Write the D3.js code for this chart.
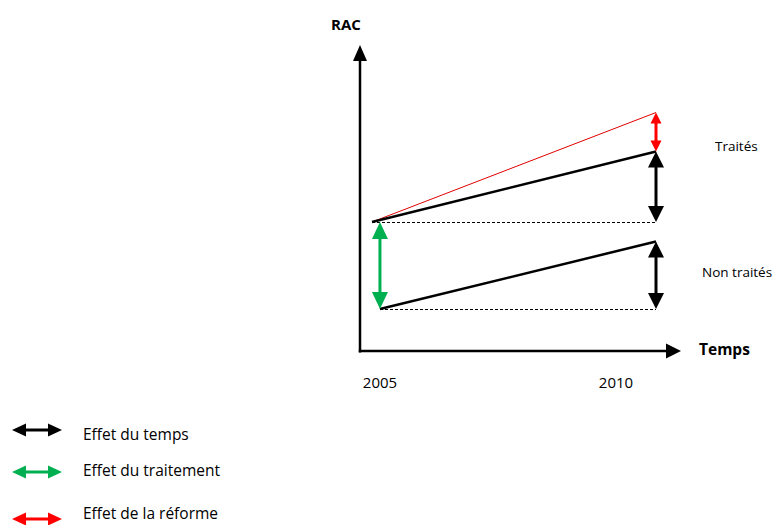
<!DOCTYPE html>
<html><head><meta charset="utf-8">
<script src="https://cdn.jsdelivr.net/npm/d3@7/dist/d3.min.js"></script>
<style>
html,body{margin:0;padding:0;background:#fff;}
text{font-family:"Open Sans",Lato,sans-serif;fill:#000;}
</style></head>
<body>
<svg id="c" width="775" height="525"></svg>
<script>
// ---- data ----
const years = [2005, 2010];
const yearLabels = ["2005", "2010"];
const treated = [43, 66.5];          // Traités
const counterfactual = [43, 79.5];   // red line (without reform)
const untreated = [14, 36.5];        // Non traités
const untreatedStartYear = 2005.14;  // untreated line starts slightly later
const groupLabels = ["Traités", "Non traités"];
const legendLabels = ["Effet du temps", "Effet du traitement", "Effet de la réforme"];
const legendColors = ["#000000", "#00B050", "#FF0000"];

const svg = d3.select("#c");
const x = d3.scaleLinear().domain([2005, 2010]).range([372, 656]);
const y = d3.scaleLinear().domain([0, 100]).range([351, 51]);
const originX = 360, originY = 351;

function head(g, tipX, tipY, dx, dy, len, w, color) {
  const bx = tipX - dx * len, by = tipY - dy * len;
  const px = -dy * w / 2, py = dx * w / 2;
  g.append("polygon")
    .attr("points", [[tipX, tipY], [bx + px, by + py], [bx - px, by - py]].map(p => p.join(",")).join(" "))
    .attr("fill", color);
}
function dblArrow(g, x1, y1, x2, y2, len, w, sw, color) {
  const L = Math.hypot(x2 - x1, y2 - y1), dx = (x2 - x1) / L, dy = (y2 - y1) / L;
  g.append("line").attr("x1", x1 + dx * len * 0.8).attr("y1", y1 + dy * len * 0.8)
    .attr("x2", x2 - dx * len * 0.8).attr("y2", y2 - dy * len * 0.8)
    .attr("stroke", color).attr("stroke-width", sw);
  head(g, x2, y2, dx, dy, len, w, color);
  head(g, x1, y1, -dx, -dy, len, w, color);
}
function sglArrow(g, x1, y1, x2, y2, len, w, sw, color) {
  const L = Math.hypot(x2 - x1, y2 - y1), dx = (x2 - x1) / L, dy = (y2 - y1) / L;
  g.append("line").attr("x1", x1).attr("y1", y1)
    .attr("x2", x2 - dx * len * 0.8).attr("y2", y2 - dy * len * 0.8)
    .attr("stroke", color).attr("stroke-width", sw);
  head(g, x2, y2, dx, dy, len, w, color);
}

const g = svg.append("g");

// axes
sglArrow(g, originX, originY + 1.5, originX, 45, 16, 14, 2.5, "#000");
sglArrow(g, originX - 1.2, originY, 681, originY, 15, 15, 2.5, "#000");
g.append("text").attr("x", 331).attr("y", 30).attr("font-size", 15).attr("font-weight", "bold").text("RAC");
g.append("text").attr("x", 699).attr("y", 355).attr("font-size", 15.5).attr("font-weight", "bold").text("Temps");

// year labels
g.append("text").attr("x", x(years[0]) + 8).attr("y", 388).attr("text-anchor", "middle").attr("font-size", 15).text(yearLabels[0]);
g.append("text").attr("x", x(years[1]) - 40).attr("y", 388).attr("text-anchor", "middle").attr("font-size", 15).text(yearLabels[1]);

// dotted reference lines
g.append("line").attr("x1", x(years[0])).attr("x2", x(years[1])).attr("y1", y(treated[0])).attr("y2", y(treated[0]))
  .attr("stroke", "#000").attr("stroke-width", 1).attr("stroke-dasharray", "3,2").attr("shape-rendering", "crispEdges");
g.append("line").attr("x1", x(untreatedStartYear)).attr("x2", x(years[1])).attr("y1", y(untreated[0])).attr("y2", y(untreated[0]))
  .attr("stroke", "#000").attr("stroke-width", 1).attr("stroke-dasharray", "3,2").attr("shape-rendering", "crispEdges");

const line = d3.line().x(d => x(d[0])).y(d => y(d[1]));
g.append("path").attr("d", line([[years[0], counterfactual[0]], [years[1], counterfactual[1]]]))
  .attr("stroke", "#E00000").attr("stroke-width", 1).attr("fill", "none");
g.append("path").attr("d", line([[years[0], treated[0]], [years[1], treated[1]]]))
  .attr("stroke", "#000").attr("stroke-width", 2.5).attr("fill", "none");
g.append("path").attr("d", line([[untreatedStartYear, untreated[0]], [years[1], untreated[1]]]))
  .attr("stroke", "#000").attr("stroke-width", 2.5).attr("fill", "none");

// effect arrows
dblArrow(g, x(years[1]), y(counterfactual[1]), x(years[1]), y(treated[1]), 11, 11, 3, "#FF0000");
dblArrow(g, x(years[1]), y(treated[1]), x(years[1]), y(treated[0]), 16, 16, 3, "#000");
dblArrow(g, x(years[1]), y(untreated[1]), x(years[1]), y(untreated[0]), 16, 16, 3, "#000");
dblArrow(g, x(untreatedStartYear), y(treated[0]), x(untreatedStartYear), y(untreated[0]), 17, 16, 3, "#00B050");

// group labels
g.append("text").attr("x", 715).attr("y", 151).attr("font-size", 13.5).text(groupLabels[0]);
g.append("text").attr("x", 702).attr("y", 277).attr("font-size", 13.5).text(groupLabels[1]);

// legend
const legY = [430, 472, 519];
const legTextY = [440, 476, 519];
legendLabels.forEach((lab, i) => {
  dblArrow(g, 12, legY[i], 62, legY[i], 14, 13, 3, legendColors[i]);
  g.append("text").attr("x", 83).attr("y", legTextY[i]).attr("font-size", 15.5).text(lab);
});
</script>
</body></html>
